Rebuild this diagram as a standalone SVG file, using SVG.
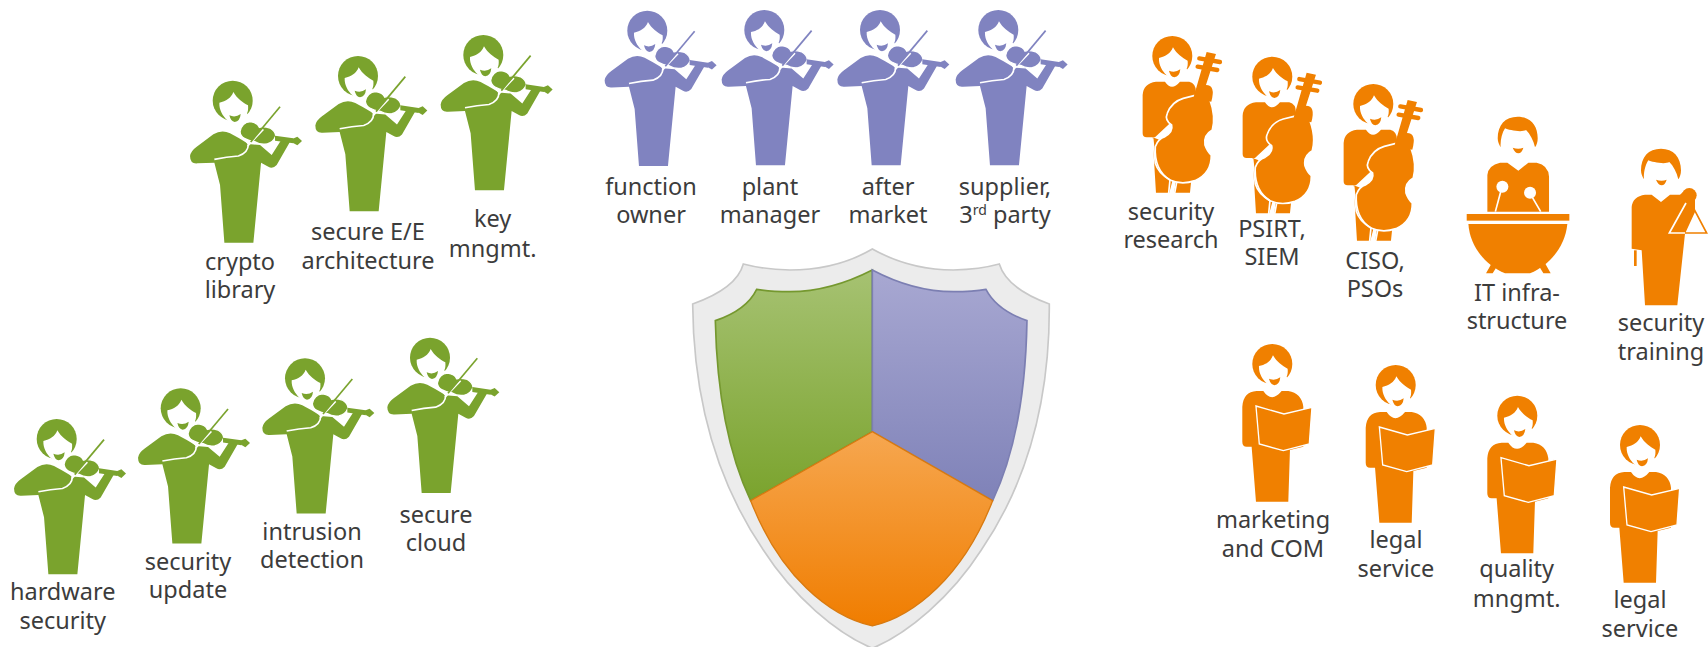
<svg xmlns="http://www.w3.org/2000/svg" width="1708" height="647" viewBox="0 0 1708 647">
<style>
text{font-family:"Noto Sans","Open Sans","Liberation Sans",sans-serif;font-size:23.5px;fill:#3c3c3c;text-anchor:middle}
.g{fill:#7aa32d;color:#7aa32d}.p{fill:#8083c0;color:#8083c0}.o{fill:#f08000;color:#f08000}
.w{fill:#fff}.wl{stroke:#fff;fill:none;stroke-width:5}
.cl{stroke:currentColor;fill:none}
</style>
<defs>
<linearGradient id="gg" x1="0" y1="0" x2="0" y2="1"><stop offset="0" stop-color="#a6c272"/><stop offset="1" stop-color="#7aa32d"/></linearGradient>
<linearGradient id="gp" x1="0" y1="0" x2="0" y2="1"><stop offset="0" stop-color="#a8a8d2"/><stop offset="1" stop-color="#7f82b8"/></linearGradient>
<linearGradient id="go" x1="0" y1="0" x2="0" y2="1"><stop offset="0" stop-color="#f6a750"/><stop offset="1" stop-color="#f07d00"/></linearGradient>
<g id="face">
<circle cx="0" cy="0" r="60"/>
<path class="w" d="M-40,6 C-20,2 -5,-8 2,-26 C13,-7 30,6 46,14 C47,25 46,32 43,38 L60,65 L10,85 L-17,58 C-30,45 -41,28 -40,6Z"/>
<path d="M-10,44 Q8,52 24,40 Q22,62 6,64 Q-6,62 -10,44Z"/>
</g>
<g id="vbody">
<path d="M30,258 Q32,243 50,230 L100,193 Q125,178 150,190 Q170,200 205,222 L240,225 L275,255 L305,208 L330,215 L290,285 Q278,298 265,290 L243,278 L220,518 L133,518 L120,345 L103,278 L52,280 Q30,282 30,258Z"/>
<path class="wl" d="M103,268 Q140,260 175,258 Q205,248 205,222 Q195,205 178,190"/>
<path stroke="#fff" stroke-width="4" d="M180,185 Q185,157 211,155 Q233,158 238,172 Q250,168 270,174 Q287,185 287,198 Q280,218 260,222 Q240,225 225,215 Q205,212 193,205 Q181,198 180,185Z"/>
<path d="M285,197 L340,205 L340,220 L285,212Z"/>
<path d="M338,206 L352,200 L366,213 L352,226 L338,218Z"/>
<path class="wl" d="M203,228 L250,178"/>
<path class="cl" stroke-width="5" d="M212,216 L300,110"/>
</g>
<g id="vt" transform="scale(.3333) translate(-158,-92)"><use href="#face" x="158" y="92"/><use href="#vbody"/></g>
<g id="vn" transform="scale(.3333) translate(-142,-92)"><use href="#face" x="142" y="92"/><g transform="translate(-16,-15) scale(1,.99)"><use href="#vbody"/></g></g>
<g id="co" transform="scale(.3333) translate(-127,-78)">
<use href="#face" x="127" y="78"/>
<path d="M38,195 Q40,160 78,155 L105,155 Q125,185 150,155 L178,155 Q198,160 198,185 L198,210 L120,280 L75,322 L50,322 Q38,322 38,310Z"/>
<path d="M68,322 L78,488 L118,488 L128,450 L138,450 L133,488 L180,488 L185,440 L90,330Z"/>
<path stroke="#fff" stroke-width="5" d="M192,197 L226,200 L240,210 Q258,260 247,300 Q220,315 225,345 Q232,365 244,375 Q245,430 195,452 Q155,466 120,450 Q72,420 76,350 Q85,325 105,320 Q130,305 125,285 Q103,270 112,250 Q125,215 160,205Z"/>
<path d="M190,205 L230,66 L258,72 L228,165 Q258,165 244,215Z"/>
<path class="cl" stroke-width="13" stroke-linecap="round" d="M208,85 L270,96 M203,110 L262,120"/>
<path class="wl" d="M68,325 L76,400 Q85,430 120,450 L116,490 M140,458 L134,490"/>
</g>
<g id="hair">
<path d="M-60,10 C-60,-30 -38,-55 0,-55 C37,-55 60,-30 60,10 C60,22 57,30 52,37 C47,15 37,-3 25,-15 C12,-7 -28,-15 -38,-20 C-48,-5 -53,20 -51,37 C-56,30 -60,20 -60,10Z"/>
<path d="M-15,38 Q2,45 17,38 Q12,55 2,55 Q-8,55 -15,38Z"/>
</g>
<g id="ti" transform="scale(.3333) translate(-203,-75)">
<use href="#hair" x="203" y="75"/>
<path d="M112,195 Q115,165 150,158 L172,158 L205,182 L235,158 L260,158 Q295,165 297,200 L297,305 L112,305Z"/>
<circle class="w" cx="157" cy="230" r="18"/><circle class="w" cx="240" cy="248" r="18"/>
<path class="wl" d="M152,245 L136,305 M247,262 L272,305"/>
<rect x="50" y="312" width="308" height="20"/>
<path d="M55,342 H352 C345,410 300,465 240,490 H165 C105,465 60,410 55,342Z"/>
<path d="M125,460 L108,490 H128 L140,470Z M285,460 L302,490 H280 L268,470Z"/>
</g>
<g id="tr" transform="scale(.3333) translate(-633,-170)">
<use href="#hair" x="633" y="170"/>
<path d="M545,290 Q548,258 585,253 L605,253 L633,275 L660,253 L690,253 L705,240 L735,265 L735,305 L705,370 L682,585 L585,585 L575,420 L545,415Z"/>
<circle cx="718" cy="255" r="22"/>
<path class="o" d="M552,420 H560 V467 H552Z"/>
<path class="wl" d="M708,278 L658,368 H705"/>
<path class="cl" stroke-width="5" d="M705,368 H770 L733,298"/>
</g>
<g id="re" transform="scale(.3333) translate(-157,-72)">
<use href="#face" x="157" y="72"/>
<path d="M67,200 Q70,155 110,153 L130,153 Q155,190 185,153 L205,153 Q245,160 250,200 L250,320 L210,330 L205,485 L108,485 L95,320 L80,320 Q67,320 67,305Z"/>
<path stroke="#fff" stroke-width="4" d="M108,198 L192,222 L276,202 L268,312 L190,332 L118,312Z"/>
</g>
</defs>
<rect width="1708" height="647" fill="#fff"/>
<g id="shield" transform="translate(680,250) scale(.3333)">
<path fill="#ececec" stroke="#c8c8c8" stroke-width="5" d="M577,-3 Q470,60 330,60 Q250,58 190,42 Q170,115 38,162 C40,420 100,680 250,900 C340,1040 470,1150 577,1195 C684,1150 814,1040 904,900 C1054,680 1110,420 1108,162 Q980,115 958,42 Q900,58 820,60 Q690,60 577,-3Z"/>
<path fill="url(#gg)" stroke="#75982f" stroke-width="5" d="M577,60 Q450,125 330,125 Q270,125 230,118 Q200,180 106,212 C110,400 140,600 212,752 L577,545Z"/>
<path fill="url(#gp)" stroke="#7c7fb2" stroke-width="5" d="M577,60 Q700,125 820,125 Q880,125 918,118 Q950,180 1041,212 C1038,400 1010,600 938,752 L577,545Z"/>
<path fill="url(#go)" stroke="#d87a10" stroke-width="4" d="M577,545 L938,752 C850,980 700,1100 577,1128 C450,1100 300,980 212,752Z"/>
</g>
<g id="connectors"></g>
<g id="crypto-library" class="g"><use href="#vt" x="232.7" y="100.7"/><text><tspan x="240" y="270">crypto</tspan><tspan x="240" y="298">library</tspan></text></g>
<g id="secure-ee" class="g"><use href="#vn" x="358" y="76"/><text><tspan x="368" y="240">secure E/E</tspan><tspan x="368" y="269">architecture</tspan></text></g>
<g id="key-mngmt" class="g"><use href="#vn" x="483.3" y="55"/><text><tspan x="492.7" y="227">key</tspan><tspan x="492.7" y="256.5">mngmt.</tspan></text></g>
<g id="hardware-security" class="g"><use href="#vn" x="56.7" y="439"/><text><tspan x="62.7" y="600">hardware</tspan><tspan x="62.7" y="629">security</tspan></text></g>
<g id="security-update" class="g"><use href="#vn" x="180.7" y="408.3"/><text><tspan x="188" y="570">security</tspan><tspan x="188" y="598">update</tspan></text></g>
<g id="intrusion-detection" class="g"><use href="#vn" x="305" y="378.3"/><text><tspan x="312" y="540">intrusion</tspan><tspan x="312" y="568">detection</tspan></text></g>
<g id="secure-cloud" class="g"><use href="#vn" x="430" y="357.7"/><text><tspan x="436" y="522.5">secure</tspan><tspan x="436" y="550.5">cloud</tspan></text></g>
<g id="function-owner" class="p"><use href="#vn" x="647.3" y="30.7"/><text><tspan x="651" y="195">function</tspan><tspan x="651" y="223">owner</tspan></text></g>
<g id="plant-manager" class="p"><use href="#vn" x="764.3" y="30"/><text><tspan x="770" y="195">plant</tspan><tspan x="770" y="223">manager</tspan></text></g>
<g id="after-market" class="p"><use href="#vn" x="880" y="30"/><text><tspan x="888" y="195">after</tspan><tspan x="888" y="223">market</tspan></text></g>
<g id="supplier" class="p"><use href="#vn" x="998.3" y="30"/><text><tspan x="1005" y="195">supplier,</tspan><tspan x="1005" y="223">3<tspan dy="-8" font-size="14">rd</tspan><tspan dy="8"> party</tspan></tspan></text></g>
<g id="security-research" class="o"><use href="#co" x="1172.3" y="56"/><text><tspan x="1171" y="220">security</tspan><tspan x="1171" y="248">research</tspan></text></g>
<g id="psirt-siem" class="o"><use href="#co" x="1272.3" y="76.7"/><text><tspan x="1272" y="237">PSIRT,</tspan><tspan x="1272" y="265">SIEM</tspan></text></g>
<g id="ciso-psos" class="o"><use href="#co" x="1373.3" y="104"/><text><tspan x="1375" y="268.5">CISO,</tspan><tspan x="1375" y="297">PSOs</tspan></text></g>
<g id="it-infra" class="o"><use href="#ti" x="1517.7" y="135"/><text><tspan x="1517" y="301">IT infra-</tspan><tspan x="1517" y="329">structure</tspan></text></g>
<g id="security-training" class="o"><use href="#tr" x="1661" y="167"/><text><tspan x="1661" y="331">security</tspan><tspan x="1661" y="360">training</tspan></text></g>
<g id="marketing" class="o"><use href="#re" x="1272.3" y="364"/><text><tspan x="1273" y="528">marketing</tspan><tspan x="1273" y="557">and COM</tspan></text></g>
<g id="legal-1" class="o"><use href="#re" x="1395.7" y="385"/><text><tspan x="1396" y="548">legal</tspan><tspan x="1396" y="577">service</tspan></text></g>
<g id="quality" class="o"><use href="#re" x="1517.3" y="415.7"/><text><tspan x="1516.7" y="577">quality</tspan><tspan x="1516.7" y="606.5">mngmt.</tspan></text></g>
<g id="legal-2" class="o"><use href="#re" x="1640" y="445"/><text><tspan x="1640" y="608">legal</tspan><tspan x="1640" y="636.5">service</tspan></text></g>
</svg>
